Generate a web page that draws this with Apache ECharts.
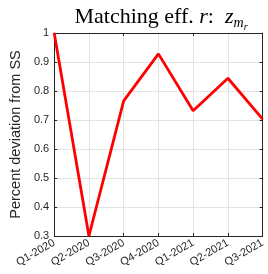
<!DOCTYPE html>
<html>
<head>
<meta charset="utf-8">
<script src="https://cdn.jsdelivr.net/npm/echarts@6/dist/echarts.min.js"></script>
<style>
  html, body { margin: 0; padding: 0; background: #fff; }
  #chart { width: 268px; height: 274px; }
</style>
</head>
<body>
<div id="chart"></div>
<script>
// quarters on the x axis
const quarters = ["Q1-2020", "Q2-2020", "Q3-2020", "Q4-2020", "Q1-2021", "Q2-2021", "Q3-2021"];
// matching efficiency
const matchEff = [1.0, 0.30, 0.766, 0.928, 0.732, 0.844, 0.703];
const yMin = 0.3;
const yMax = 1;
const yStep = 0.1;

const chart = echarts.init(document.getElementById("chart"));
const axisColor = "#262626";
const font = "Liberation Sans, Arial, sans-serif";
const serif = "Liberation Serif, Times New Roman, serif";

const option = {
  animation: false,
  title: {
    text: "{n|Matching eff. }{i|r}{n|:  }{i|z}{s|m}{ss|r}",
    left: 156,
    textAlign: "center",
    top: -2,
    textStyle: {
      fontWeight: "normal",
      rich: {
        n: { fontFamily: serif, fontWeight: "normal", fontSize: 22, color: "#000" },
        i: { fontFamily: serif, fontWeight: "normal", fontStyle: "italic", fontSize: 22, color: "#000" },
        s: { fontFamily: serif, fontWeight: "normal", fontStyle: "italic", fontSize: 14, color: "#000", padding: [11, 0, 0, 0] },
        ss: { fontFamily: serif, fontWeight: "normal", fontStyle: "italic", fontSize: 10, color: "#000", padding: [19, 0, 0, 0] }
      }
    }
  },
  grid: { left: 48, right: 3, top: 33, bottom: 38, containLabel: false },
  xAxis: [
    {
      type: "category",
      data: quarters,
      boundaryGap: false,
      axisLine: { lineStyle: { color: axisColor, width: 1 } },
      axisTick: { inside: true, length: 3, lineStyle: { color: axisColor } },
      axisLabel: { rotate: 30, fontSize: 11, color: axisColor, fontFamily: font, margin: 6 },
      splitLine: { show: true, lineStyle: { color: "#e3e3e3", width: 1 } }
    },
    {
      type: "category",
      data: quarters,
      boundaryGap: false,
      position: "top",
      axisLine: { lineStyle: { color: axisColor, width: 1 } },
      axisTick: { inside: true, length: 3, lineStyle: { color: axisColor } },
      axisLabel: { show: false },
      splitLine: { show: false }
    }
  ],
  yAxis: [
    {
      type: "value",
      min: yMin,
      max: yMax,
      interval: yStep,
      name: "Percent deviation from SS",
      nameLocation: "middle",
      nameGap: 31,
      nameTextStyle: { fontSize: 14.5, color: axisColor, fontFamily: font },
      axisLine: { show: true, lineStyle: { color: axisColor, width: 1 } },
      axisTick: { show: true, inside: true, length: 3, lineStyle: { color: axisColor } },
      axisLabel: { fontSize: 11, color: axisColor, fontFamily: font, margin: 5 },
      splitLine: { show: true, lineStyle: { color: "#e3e3e3", width: 1 } }
    },
    {
      type: "value",
      min: yMin,
      max: yMax,
      interval: yStep,
      position: "right",
      axisLine: { show: true, lineStyle: { color: axisColor, width: 1 } },
      axisTick: { show: true, inside: true, length: 3, lineStyle: { color: axisColor } },
      axisLabel: { show: false },
      splitLine: { show: false }
    }
  ],
  series: [
    {
      type: "line",
      data: matchEff,
      symbol: "none",
      lineStyle: { color: "#ff0000", width: 2.8 },
      z: 3
    }
  ]
};

chart.setOption(option);
</script>
</body>
</html>
